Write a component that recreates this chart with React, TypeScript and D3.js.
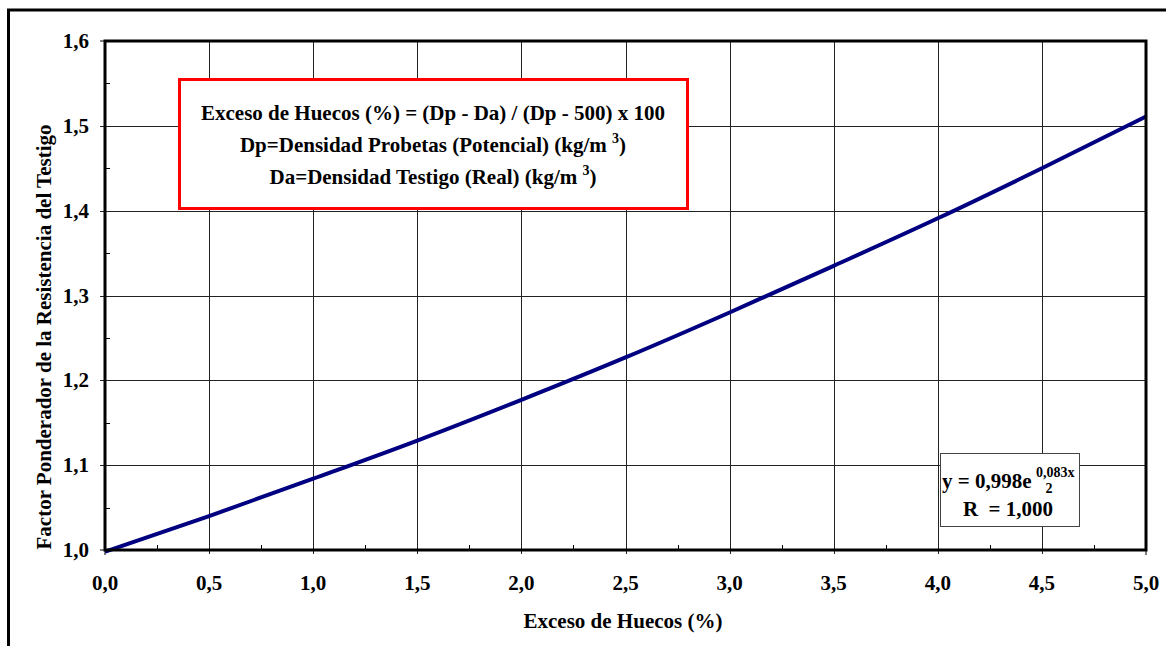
import { useEffect, useRef } from "react";
import * as d3 from "d3";

// values
const excesoHuecos = [0, 0.5, 1.0, 1.5, 2.0, 2.5, 3.0, 3.5, 4.0, 4.5, 5.0];
const factorPonderador = [0.998, 1.04, 1.084, 1.129, 1.177, 1.227, 1.28, 1.335, 1.391, 1.45, 1.511];

const xTicks = [0, 0.5, 1, 1.5, 2, 2.5, 3, 3.5, 4, 4.5, 5];
const yTicks = [1.0, 1.1, 1.2, 1.3, 1.4, 1.5, 1.6];

const noteLines = [
  "Exceso de Huecos (%) = (Dp - Da) / (Dp - 500) x 100",
  "Dp=Densidad Probetas (Potencial) (kg/m ",
  "Da=Densidad Testigo (Real) (kg/m ",
];

function App() {
  const ref = useRef<SVGSVGElement>(null);

  useEffect(() => {
    const W = 1166;
    const H = 646;
    const margin = { left: 105, top: 41, right: 1146, bottom: 550 };
    const font = "'Liberation Serif', 'Times New Roman', serif";
    const fs = 21;

    const svg = d3.select(ref.current);
    svg.selectAll("*").remove();

    svg.append("rect").attr("width", W).attr("height", H).attr("fill", "white");

    // outer frame (cut at right and bottom)
    svg
      .append("rect")
      .attr("x", 8.5)
      .attr("y", 10)
      .attr("width", W + 20)
      .attr("height", H + 20)
      .attr("fill", "none")
      .attr("stroke", "black")
      .attr("stroke-width", 3);

    const x = d3.scaleLinear().domain([0, 5]).range([margin.left, margin.right]);
    const y = d3.scaleLinear().domain([1.0, 1.6]).range([margin.bottom, margin.top]);

    const g = svg.append("g");

    // grid
    g.selectAll(".vgrid")
      .data(xTicks.slice(1, -1))
      .enter()
      .append("line")
      .attr("x1", (d) => Math.round(x(d)) + 0.5)
      .attr("x2", (d) => Math.round(x(d)) + 0.5)
      .attr("y1", margin.top)
      .attr("y2", margin.bottom + 4)
      .attr("stroke", "#222")
      .attr("stroke-width", 1);
    g.selectAll(".hgrid")
      .data(yTicks.slice(1, -1))
      .enter()
      .append("line")
      .attr("x1", margin.left - 5)
      .attr("x2", margin.right)
      .attr("y1", (d) => Math.round(y(d)) + 0.5)
      .attr("y2", (d) => Math.round(y(d)) + 0.5)
      .attr("stroke", "#222")
      .attr("stroke-width", 1);

    // major ticks at ends
    [0, 5].forEach((v) => {
      g.append("line")
        .attr("x1", x(v)).attr("x2", x(v))
        .attr("y1", margin.bottom).attr("y2", margin.bottom + 5)
        .attr("stroke", "black");
    });
    [1.0, 1.6].forEach((v) => {
      g.append("line")
        .attr("x1", margin.left - 5).attr("x2", margin.left)
        .attr("y1", y(v)).attr("y2", y(v))
        .attr("stroke", "black");
    });

    // minor ticks (inside)
    d3.range(0.25, 5, 0.5).forEach((v) => {
      g.append("line")
        .attr("x1", Math.round(x(v)) + 0.5).attr("x2", Math.round(x(v)) + 0.5)
        .attr("y1", margin.bottom).attr("y2", margin.bottom - 5)
        .attr("stroke", "black");
    });
    d3.range(1.05, 1.6, 0.1).forEach((v) => {
      g.append("line")
        .attr("x1", margin.left).attr("x2", margin.left + 5)
        .attr("y1", Math.round(y(v)) + 0.5).attr("y2", Math.round(y(v)) + 0.5)
        .attr("stroke", "black");
    });

    // note box
    const note = svg.append("g");
    note
      .append("rect")
      .attr("x", 179.5)
      .attr("y", 79.5)
      .attr("width", 508)
      .attr("height", 129)
      .attr("fill", "white")
      .attr("stroke", "#ff0000")
      .attr("stroke-width", 3);
    const noteY = [120, 152, 184];
    noteLines.forEach((t, i) => {
      const txt = note
        .append("text")
        .attr("x", 433)
        .attr("y", noteY[i])
        .attr("text-anchor", "middle")
        .attr("font-family", font)
        .attr("font-weight", "bold")
        .attr("font-size", fs)
        .text(t);
      if (i > 0) {
        txt.append("tspan").attr("dy", -9).attr("font-size", 14).text("3");
        txt.append("tspan").attr("dy", 9).text(")");
      }
    });

    // data line
    const line = d3
      .line<number>()
      .x((d, i) => x(excesoHuecos[i]))
      .y((d) => y(d))
      .curve(d3.curveMonotoneX);
    svg
      .append("path")
      .datum(factorPonderador)
      .attr("d", line)
      .attr("fill", "none")
      .attr("stroke", "#000080")
      .attr("stroke-width", 4);

    // plot frame
    svg
      .append("rect")
      .attr("x", margin.left)
      .attr("y", margin.top)
      .attr("width", margin.right - margin.left)
      .attr("height", margin.bottom - margin.top)
      .attr("fill", "none")
      .attr("stroke", "black")
      .attr("stroke-width", 3);

    // equation box
    const eq = svg.append("g");
    eq.append("rect")
      .attr("x", 940.5)
      .attr("y", 453.5)
      .attr("width", 139)
      .attr("height", 73)
      .attr("fill", "white")
      .attr("stroke", "#444")
      .attr("stroke-width", 1);
    eq.append("text")
      .attr("x", 942)
      .attr("y", 488)
      .attr("font-family", font)
      .attr("font-weight", "bold")
      .attr("font-size", fs)
      .text("y = 0,998e");
    eq.append("text")
      .attr("x", 1036)
      .attr("y", 477)
      .attr("font-family", font)
      .attr("font-weight", "bold")
      .attr("font-size", 14)
      .text("0,083x");
    eq.append("text")
      .attr("x", 1049)
      .attr("y", 493)
      .attr("text-anchor", "middle")
      .attr("font-family", font)
      .attr("font-weight", "bold")
      .attr("font-size", 14)
      .text("2");
    eq.append("text")
      .attr("x", 1008)
      .attr("y", 516)
      .attr("text-anchor", "middle")
      .attr("font-family", font)
      .attr("font-weight", "bold")
      .attr("font-size", fs)
      .style("white-space", "pre")
      .text("R  = 1,000");

    // tick labels
    svg
      .selectAll(".xlab")
      .data(xTicks)
      .enter()
      .append("text")
      .attr("x", (d) => x(d))
      .attr("y", 590)
      .attr("text-anchor", "middle")
      .attr("font-family", font)
      .attr("font-weight", "bold")
      .attr("font-size", fs)
      .text((d) => d3.format(".1f")(d).replace(".", ","));
    svg
      .selectAll(".ylab")
      .data(yTicks)
      .enter()
      .append("text")
      .attr("x", 89)
      .attr("y", (d) => y(d) + 7)
      .attr("text-anchor", "end")
      .attr("font-family", font)
      .attr("font-weight", "bold")
      .attr("font-size", fs)
      .text((d) => d3.format(".1f")(d).replace(".", ","));

    // axis titles
    svg
      .append("text")
      .attr("x", 623)
      .attr("y", 628)
      .attr("text-anchor", "middle")
      .attr("font-family", font)
      .attr("font-weight", "bold")
      .attr("font-size", fs)
      .text("Exceso de Huecos (%)");
    svg
      .append("text")
      .attr("transform", "translate(51,337) rotate(-90)")
      .attr("text-anchor", "middle")
      .attr("font-family", font)
      .attr("font-weight", "bold")
      .attr("font-size", fs)
      .text("Factor Ponderador de la Resistencia del Testigo");
  }, []);

  return (
    <svg
      ref={ref}
      width={1166}
      height={646}
      style={{ position: "absolute", left: 0, top: 0, display: "block" }}
    />
  );
}

export default App;
